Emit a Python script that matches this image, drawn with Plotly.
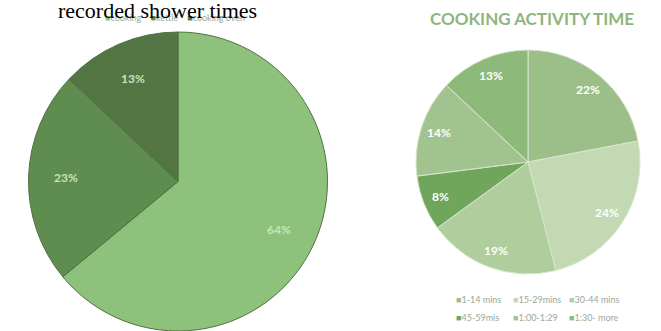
import math
import plotly.graph_objects as go

# Left pie data
left_labels = ["cooking", "kettle", "cooking oven"]
left_values = [64, 23, 13]
left_colors = ["#8ec27c", "#5f8c4f", "#527543"]

# Right pie data
right_labels = ["1-14 mins", "15-29mins", "30-44 mins", "45-59mis", "1:00-1:29", "1:30- more"]
right_values = [22, 24, 19, 8, 14, 13]
right_colors = ["#9cbf89", "#c2d9b3", "#afcd9d", "#70a65b", "#a1c38f", "#8dba7b"]

W, H = 661, 331

# pie boxes in pixels (left, top, right, bottom)
LEFT_BOX = (26, 32, 330, 331)
RIGHT_BOX = (416, 50, 640, 274)


def dom(box):
    l, t, r, b = box
    return dict(x=[l / W, r / W], y=[1 - b / H, 1 - t / H])


fig = go.Figure()

fig.add_trace(go.Pie(
    labels=left_labels, values=left_values, sort=False, direction="clockwise", rotation=0,
    marker=dict(colors=left_colors, line=dict(color="#4f7240", width=1)),
    textinfo="none", domain=dom(LEFT_BOX), showlegend=False, hoverinfo="label+percent",
))

fig.add_trace(go.Pie(
    labels=right_labels, values=right_values, sort=False, direction="clockwise", rotation=0,
    marker=dict(colors=right_colors, line=dict(color="#d8e6cf", width=1)),
    textinfo="none", domain=dom(RIGHT_BOX), showlegend=False, hoverinfo="label+percent",
))

annotations = []


def pie_labels(values, box, frac, font):
    l, t, r, b = box
    cx, cy = (l + r) / 2, (t + b) / 2
    rad = min(r - l, b - t) / 2
    total = sum(values)
    cum = 0
    for v in values:
        mid = (cum + v / 2) / total * 2 * math.pi
        cum += v
        px = cx + frac * rad * math.sin(mid)
        py = cy - frac * rad * math.cos(mid)
        annotations.append(dict(
            text=f"{round(100 * v / total)}%", x=px / W, y=1 - py / H, xref="paper", yref="paper",
            xanchor="center", yanchor="middle", showarrow=False, font=font))


pie_labels(left_values, LEFT_BOX, 0.75, dict(family="Lato", size=12, color="#c8e5b6", weight="bold"))
pie_labels(right_values, RIGHT_BOX, 0.84, dict(family="Lato", size=12, color="white", weight="bold"))


def legend_item(label, color):
    return f"<span style='color:{color}'>■</span>{label}"


LEG_FONT = dict(family="Lato", size=9, color="#9aa896")

# left legend (one row)
annotations.append(dict(
    text="&nbsp;&nbsp;&nbsp;&nbsp;".join(legend_item(lb, c) for lb, c in zip(left_labels, left_colors)),
    x=103 / W, y=1 - 17 / H, xref="paper", yref="paper", xanchor="left", yanchor="middle",
    showarrow=False, font=LEG_FONT))

# right legend (two rows, three columns)
col_x = [454, 511, 567]
row_y = [299, 317]
for i, (lb, c) in enumerate(zip(right_labels, right_colors)):
    annotations.append(dict(
        text=legend_item(lb, c), x=col_x[i % 3] / W, y=1 - row_y[i // 3] / H,
        xref="paper", yref="paper", xanchor="left", yanchor="middle", showarrow=False, font=LEG_FONT))

annotations.append(dict(
    text="recorded shower times", x=157 / W, y=1, xref="paper", yref="paper",
    xanchor="center", yanchor="top", showarrow=False, borderpad=0, height=19,
    font=dict(family="Liberation Serif", size=22, color="black")))
annotations.append(dict(
    text="<b>COOKING ACTIVITY TIME</b>", x=532 / W, y=1 - 19 / H, xref="paper", yref="paper",
    xanchor="center", yanchor="middle", showarrow=False,
    font=dict(family="Lato", size=17, color="#8fb47d")))

fig.update_layout(
    width=W, height=H,
    margin=dict(l=0, r=0, t=0, b=0, autoexpand=False),
    paper_bgcolor="white", plot_bgcolor="white",
    font=dict(family="Lato", color="#9a9a9a"),
    showlegend=False,
    annotations=annotations,
)

fig.write_html("out.html", config={"displayModeBar": False},
               post_script="document.body.style.margin='0';")
